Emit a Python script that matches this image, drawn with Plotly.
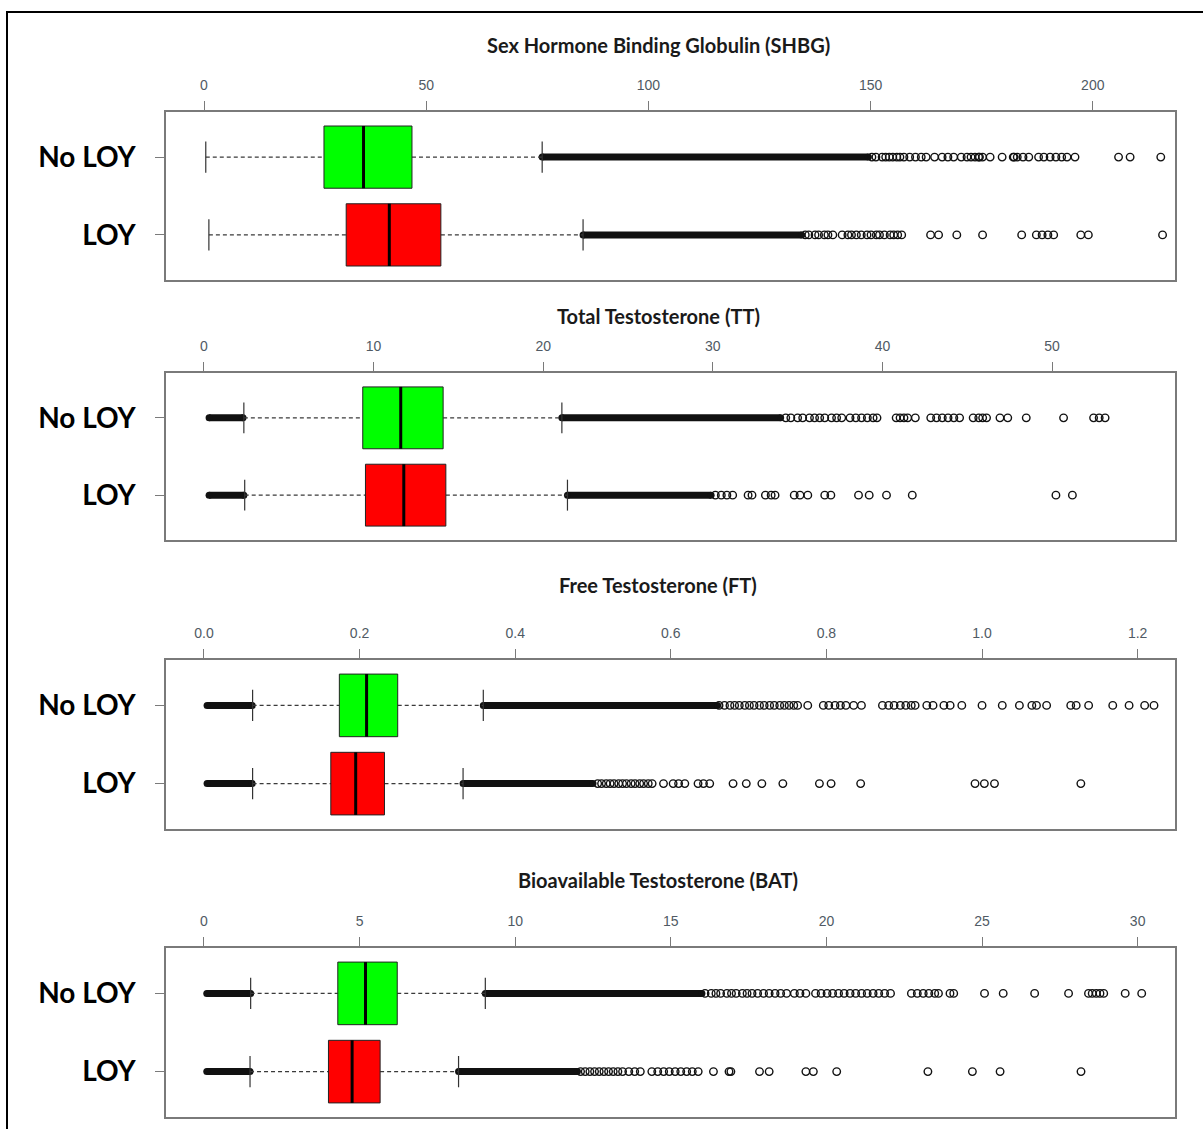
import plotly.graph_objects as go

W, H = 1203, 1129

# ---------------------------------------------------------------- data
titles = [
    "Sex Hormone Binding Globulin (SHBG)",
    "Total Testosterone (TT)",
    "Free Testosterone (FT)",
    "Bioavailable Testosterone (BAT)",
]
groups = ["No LOY", "LOY"]

# tick labels on the top axis of each panel
shbg_ticks = [0, 50, 100, 150, 200]
tt_ticks = [0, 10, 20, 30, 40, 50]
ft_ticks = [0.0, 0.2, 0.4, 0.6, 0.8, 1.0, 1.2]
bat_ticks = [0, 5, 10, 15, 20, 25, 30]

# five-number summaries: lower whisker, Q1, median, Q3, upper whisker
shbg_noloy = [0.4, 27.0, 35.9, 46.8, 76.1]
shbg_loy = [1.1, 32.0, 41.7, 53.3, 85.3]
tt_noloy = [2.35, 9.36, 11.6, 14.1, 21.1]
tt_loy = [2.4, 9.52, 11.78, 14.26, 21.43]
ft_noloy = [0.0625, 0.174, 0.209, 0.249, 0.359]
ft_loy = [0.0625, 0.163, 0.195, 0.232, 0.333]
bat_noloy = [1.5, 4.30, 5.19, 6.21, 9.04]
bat_loy = [1.48, 4.00, 4.76, 5.66, 8.18]

# stretches where outliers are so many that the circles merge into a bar
shbg_noloy_runs = [[76.1, 149.5]]
shbg_loy_runs = [[85.3, 134.5]]
tt_noloy_runs = [[0.3, 2.3], [21.1, 34.0]]
tt_loy_runs = [[0.3, 2.35], [21.43, 29.9]]
ft_noloy_runs = [[0.004, 0.062], [0.359, 0.660]]
ft_loy_runs = [[0.004, 0.062], [0.333, 0.500]]
bat_noloy_runs = [[0.09, 1.5], [9.04, 16.0]]
bat_loy_runs = [[0.09, 1.48], [8.18, 12.0]]

# individual outliers
shbg_noloy_out = [
    150.3, 151.2, 152.6, 153.4, 154.2, 155.0, 155.9, 156.6,
    157.5, 158.8, 160.1, 161.4, 162.5, 164.4, 166.1, 167.4, 168.7, 170.4,
    171.7, 172.6, 173.5, 174.3, 174.5, 175.2, 176.9, 179.6, 182.1, 182.3,
    183.0, 184.3, 185.6, 187.8, 189.0, 190.4, 191.7, 193.0, 194.2, 196.0,
    205.8, 208.4, 215.3,
]
shbg_loy_out = [
    135.3, 136.1, 137.5, 138.3, 139.6, 140.4, 141.5, 143.6, 144.9, 145.7,
    146.8, 147.9, 149.2, 150.1, 151.3, 152.0, 153.1, 154.4, 155.2, 156.1,
    157.0,
    163.5, 165.3, 169.4, 175.2, 184.0, 187.3, 188.6, 189.9, 191.2, 197.3,
    199.0, 215.7,
]
tt_noloy_out = [
    34.3, 34.6, 35.0, 35.3, 35.7, 36.0, 36.3, 36.6, 37.0, 37.3, 37.6,
    38.09, 38.43, 38.77, 39.11, 39.45, 39.68, 40.81, 41.04, 41.27, 41.49,
    41.94, 42.85, 43.19, 43.53, 43.87, 44.21, 44.55, 45.35, 45.68, 45.91,
    46.14, 46.93, 47.39, 48.48, 50.68, 52.45, 52.78, 53.13,
]
tt_loy_out = [
    30.15, 30.5, 30.83, 31.17, 32.08, 32.31, 33.1, 33.44,
    33.67, 34.8, 35.14, 35.6, 36.6, 36.96, 38.59, 39.22, 40.24, 41.76,
    50.23, 51.2,
]
ft_noloy_out = [
    0.662, 0.669, 0.676, 0.682, 0.688,
    0.695, 0.701, 0.707, 0.714, 0.720, 0.727, 0.733, 0.740, 0.746, 0.752,
    0.758, 0.763,
    0.776, 0.796, 0.803, 0.811, 0.818, 0.825, 0.835, 0.845, 0.872, 0.880,
    0.887, 0.895, 0.902, 0.909, 0.914, 0.929, 0.937, 0.951, 0.959, 0.974,
    1.000, 1.026, 1.048, 1.064, 1.070, 1.083, 1.114, 1.121, 1.137, 1.168,
    1.189, 1.209, 1.221,
]
ft_loy_out = [
    0.506, 0.511, 0.517, 0.522, 0.527,
    0.533, 0.538, 0.543, 0.549, 0.554, 0.560, 0.565, 0.571, 0.576,
    0.5906, 0.603, 0.610, 0.618, 0.635, 0.642, 0.650, 0.680, 0.697, 0.717,
    0.744, 0.791, 0.806, 0.844, 0.991, 1.003, 1.016, 1.127,
]
bat_noloy_out = [
    16.1, 16.3, 16.45, 16.6, 16.8, 16.95, 17.1, 17.3, 17.45,
    17.61, 17.79, 17.98, 18.16, 18.35, 18.53, 18.72, 18.97, 19.15, 19.34,
    19.65, 19.83, 20.02, 20.20, 20.39, 20.57, 20.76, 20.94, 21.13, 21.31,
    21.50, 21.68, 21.87, 22.06, 22.73, 22.92, 23.11, 23.29, 23.48, 23.60,
    23.97, 24.09, 25.08, 25.68, 26.69, 27.78, 28.42, 28.54, 28.67, 28.79,
    28.91, 29.60, 30.13,
]
bat_loy_out = [
    12.1, 12.25, 12.4, 12.55, 12.7, 12.85, 13.0, 13.15, 13.3, 13.45,
    13.65, 13.84, 14.02, 14.39, 14.58, 14.77, 14.95, 15.14, 15.32, 15.51,
    15.69, 15.88, 16.37, 16.87, 16.93, 17.85, 18.16, 19.34, 19.58, 20.33,
    23.26, 24.69, 25.58, 28.18,
]

# ---------------------------------------------------------------- layout
PLOT_L, PLOT_R = 166, 1175
TITLE_X = 658
panels = [
    dict(title=titles[0], ticks=shbg_ticks, fmt="", rng=[-8.55, 218.5],
         top=112, bottom=280, title_y=45,
         stats=[shbg_noloy, shbg_loy], runs=[shbg_noloy_runs, shbg_loy_runs],
         out=[shbg_noloy_out, shbg_loy_out]),
    dict(title=titles[1], ticks=tt_ticks, fmt="", rng=[-2.24, 57.25],
         top=373, bottom=540, title_y=316,
         stats=[tt_noloy, tt_loy], runs=[tt_noloy_runs, tt_loy_runs],
         out=[tt_noloy_out, tt_loy_out]),
    dict(title=titles[2], ticks=ft_ticks, fmt=".1f", rng=[-0.0488, 1.248],
         top=660, bottom=829, title_y=585,
         stats=[ft_noloy, ft_loy], runs=[ft_noloy_runs, ft_loy_runs],
         out=[ft_noloy_out, ft_loy_out]),
    dict(title=titles[3], ticks=bat_ticks, fmt="", rng=[-1.22, 31.2],
         top=948, bottom=1117, title_y=880,
         stats=[bat_noloy, bat_loy], runs=[bat_noloy_runs, bat_loy_runs],
         out=[bat_noloy_out, bat_loy_out]),
]

fills = ["#00FF00", "#FF0000"]
rows = [2, 1]          # No LOY drawn above LOY
HALF_BOX = 0.4
HALF_CAP = 0.2
FRAME = "#7a7a7a"
INK = "#111111"

fig = go.Figure()
shapes = []
annotations = []
layout_axes = {}

for i, p in enumerate(panels):
    sfx = "" if i == 0 else str(i + 1)
    xr, yr = "x" + sfx, "y" + sfx
    layout_axes["xaxis" + sfx] = dict(
        domain=[PLOT_L / W, PLOT_R / W], range=p["rng"], side="top",
        anchor=yr, tickmode="array", tickvals=p["ticks"], tickformat=p["fmt"],
        ticks="outside", ticklen=9, tickwidth=1, tickcolor=FRAME,
        ticklabelstandoff=6,
        tickfont=dict(family="Liberation Sans", size=14, color="#505a64"),
        showline=True, linecolor=FRAME, linewidth=1.5, mirror=True,
        showgrid=False, zeroline=False, fixedrange=True,
    )
    layout_axes["yaxis" + sfx] = dict(
        domain=[1 - p["bottom"] / H, 1 - p["top"] / H], range=[0.42, 2.58],
        anchor=xr, tickmode="array", tickvals=rows, ticktext=groups,
        ticks="outside", ticklen=9, tickwidth=1, tickcolor=FRAME,
        ticklabelstandoff=14,
        tickfont=dict(family="Lato", size=28, color="#000000", weight="bold"),
        showline=True, linecolor=FRAME, linewidth=1.5, mirror=True,
        showgrid=False, zeroline=False, fixedrange=True,
    )
    annotations.append(dict(
        text="<b>" + p["title"] + "</b>", xref="paper", yref="paper",
        x=TITLE_X / W, y=1 - p["title_y"] / H, xanchor="center",
        yanchor="middle", showarrow=False,
        font=dict(family="Lato", size=20, color="#1a1a1a"),
    ))

    for g in range(2):
        lo, q1, med, q3, hi = p["stats"][g]
        yc = rows[g]
        # dashed whiskers
        for a, b in ((lo, q1), (q3, hi)):
            shapes.append(dict(type="line", xref=xr, yref=yr, x0=a, x1=b,
                               y0=yc, y1=yc,
                               line=dict(color="#3a3a3a", width=1.2,
                                         dash="4px,3px")))
        # whisker end caps
        for v in (lo, hi):
            shapes.append(dict(type="line", xref=xr, yref=yr, x0=v, x1=v,
                               y0=yc - HALF_CAP, y1=yc + HALF_CAP,
                               line=dict(color="#333333", width=1.2)))
        # box
        shapes.append(dict(type="rect", xref=xr, yref=yr, x0=q1, x1=q3,
                           y0=yc - HALF_BOX, y1=yc + HALF_BOX,
                           fillcolor=fills[g],
                           line=dict(color="#222222", width=1)))
        # median
        shapes.append(dict(type="line", xref=xr, yref=yr, x0=med, x1=med,
                           y0=yc - HALF_BOX, y1=yc + HALF_BOX,
                           line=dict(color="#000000", width=3)))

        # solid runs of overlapping outliers
        for a, b in p["runs"][g]:
            fig.add_trace(go.Scatter(
                x=[a, b], y=[yc, yc], xaxis=xr, yaxis=yr, mode="lines+markers",
                line=dict(color=INK, width=7),
                marker=dict(symbol="circle", size=7, color=INK),
                hoverinfo="skip", showlegend=False,
            ))
        # separate outliers
        pts = p["out"][g]
        fig.add_trace(go.Scatter(
            x=pts, y=[yc] * len(pts), xaxis=xr, yaxis=yr, mode="markers",
            marker=dict(symbol="circle-open", size=7.5, color=INK,
                        line=dict(width=1.4, color=INK)),
            hoverinfo="skip", showlegend=False,
        ))

# outer frame around the whole figure
shapes.append(dict(type="rect", xref="paper", yref="paper",
                   x0=7 / W, x1=1.02, y0=-0.02, y1=1 - 12 / H,
                   line=dict(color="#000000", width=2), layer="above"))

fig.update_layout(
    width=W, height=H, margin=dict(l=0, r=0, t=0, b=0),
    paper_bgcolor="white", plot_bgcolor="white",
    shapes=shapes, annotations=annotations, showlegend=False,
    **layout_axes,
)

fig.write_html("out.html")
